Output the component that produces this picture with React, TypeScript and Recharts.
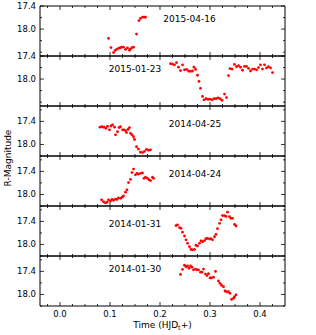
import { ScatterChart, Scatter, XAxis, YAxis, ReferenceArea, ReferenceDot } from 'recharts';

// observing nights, top panel first
const dates = ['2015-04-16', '2015-01-23', '2014-04-25', '2014-04-24', '2014-01-31', '2014-01-30'];

const time150416 = [0.097, 0.102, 0.107, 0.110, 0.113, 0.117, 0.120, 0.123, 0.127, 0.131, 0.135, 0.139, 0.141, 0.144, 0.147, 0.153, 0.158, 0.161, 0.165, 0.168, 0.171];
const mag150416 = [18.24, 18.48, 18.61, 18.56, 18.53, 18.50, 18.49, 18.47, 18.47, 18.53, 18.49, 18.55, 18.52, 18.48, 18.47, 18.13, 17.78, 17.72, 17.69, 17.69, 17.69];

const time150123 = [0.221, 0.225, 0.229, 0.233, 0.237, 0.241, 0.245, 0.249, 0.253, 0.257, 0.261, 0.265, 0.268, 0.271, 0.275, 0.278, 0.281, 0.285, 0.288, 0.292, 0.296, 0.300, 0.304, 0.308, 0.312, 0.316, 0.320, 0.324, 0.329, 0.333, 0.337, 0.340, 0.344, 0.349, 0.353, 0.357, 0.361, 0.365, 0.369, 0.373, 0.377, 0.381, 0.385, 0.389, 0.393, 0.397, 0.401, 0.405, 0.409, 0.413, 0.417, 0.421, 0.425];
const mag150123 = [17.60, 17.61, 17.63, 17.57, 17.69, 17.78, 17.63, 17.76, 17.75, 17.79, 17.80, 17.79, 17.69, 17.75, 17.90, 18.06, 18.24, 18.45, 18.54, 18.51, 18.53, 18.52, 18.54, 18.51, 18.51, 18.49, 18.51, 18.55, 18.39, 18.48, 17.91, 17.73, 17.74, 17.62, 17.68, 17.65, 17.69, 17.77, 17.67, 17.67, 17.72, 17.79, 17.74, 17.74, 17.76, 17.70, 17.63, 17.74, 17.63, 17.71, 17.68, 17.71, 17.83];

const time140425 = [0.080, 0.084, 0.088, 0.092, 0.095, 0.099, 0.102, 0.105, 0.109, 0.111, 0.115, 0.118, 0.121, 0.125, 0.128, 0.131, 0.133, 0.136, 0.139, 0.141, 0.144, 0.147, 0.149, 0.153, 0.157, 0.161, 0.165, 0.169, 0.173, 0.177, 0.181];
const mag140425 = [17.55, 17.54, 17.55, 17.58, 17.53, 17.62, 17.52, 17.49, 17.55, 17.75, 17.67, 17.56, 17.54, 17.62, 17.62, 17.64, 17.69, 17.61, 17.56, 17.71, 17.75, 17.80, 17.87, 18.06, 18.12, 18.20, 18.21, 18.18, 18.13, 18.15, 18.14];

const time140424 = [0.083, 0.087, 0.091, 0.094, 0.097, 0.101, 0.104, 0.107, 0.111, 0.114, 0.117, 0.121, 0.124, 0.127, 0.131, 0.134, 0.137, 0.141, 0.144, 0.147, 0.151, 0.154, 0.157, 0.161, 0.165, 0.168, 0.171, 0.175, 0.178, 0.181, 0.185, 0.187];
const mag140424 = [18.14, 18.19, 18.22, 18.20, 18.14, 18.17, 18.13, 18.15, 18.12, 18.13, 18.09, 18.10, 18.07, 18.04, 17.94, 17.88, 17.69, 17.61, 17.43, 17.34, 17.49, 17.45, 17.47, 17.45, 17.44, 17.58, 17.55, 17.58, 17.62, 17.64, 17.55, 17.58];

const time140131 = [0.232, 0.235, 0.239, 0.242, 0.245, 0.249, 0.252, 0.255, 0.259, 0.262, 0.265, 0.269, 0.272, 0.275, 0.279, 0.282, 0.285, 0.289, 0.292, 0.295, 0.299, 0.302, 0.305, 0.309, 0.312, 0.315, 0.319, 0.322, 0.325, 0.329, 0.332, 0.335, 0.339, 0.342, 0.345, 0.349, 0.352];
const mag140131 = [17.51, 17.49, 17.56, 17.58, 17.68, 17.78, 17.88, 17.97, 18.06, 18.13, 18.14, 18.13, 18.02, 18.04, 17.97, 17.91, 17.93, 17.90, 17.85, 17.84, 17.86, 17.85, 17.88, 17.80, 17.74, 17.59, 17.45, 17.36, 17.25, 17.25, 17.27, 17.16, 17.28, 17.32, 17.32, 17.48, 17.52];

const time140130 = [0.241, 0.245, 0.249, 0.252, 0.255, 0.258, 0.261, 0.264, 0.267, 0.271, 0.274, 0.277, 0.281, 0.284, 0.287, 0.291, 0.294, 0.297, 0.300, 0.303, 0.307, 0.311, 0.317, 0.320, 0.323, 0.327, 0.330, 0.333, 0.337, 0.340, 0.343, 0.347, 0.349, 0.352];
const mag140130 = [17.48, 17.35, 17.24, 17.28, 17.26, 17.32, 17.26, 17.29, 17.36, 17.34, 17.36, 17.36, 17.42, 17.42, 17.34, 17.47, 17.51, 17.46, 17.57, 17.57, 17.55, 17.40, 17.65, 17.71, 17.76, 17.80, 17.91, 17.93, 17.93, 17.97, 18.13, 18.10, 18.06, 18.01];

const times = [time150416, time150123, time140425, time140424, time140131, time140130];
const mags = [mag150416, mag150123, mag140425, mag140424, mag140131, mag140130];

const xTicks = [-0.025, 0, 0.025, 0.05, 0.075, 0.1, 0.125, 0.15, 0.175, 0.2, 0.225, 0.25, 0.275, 0.3, 0.325, 0.35, 0.375, 0.4, 0.425];
const xLabels = [0, 0.1, 0.2, 0.3, 0.4];
const yTicks2015 = [17.4, 17.7, 18.0, 18.3, 18.6];
const yTicks2014 = [17.1, 17.4, 17.7, 18.0, 18.3];
const yLabels = [17.4, 18.0];

// layout
const X_DOMAIN = [-0.04, 0.45];
const PLOT_W = 245;
const PLOT_H = 50;
const PAD = 10;
const FONT = 'DejaVu Sans, sans-serif';
const datePos = [
  [0.259, 17.72],
  [0.15, 17.73],
  [0.27, 17.45],
  [0.27, 17.45],
  [0.15, 17.45],
  [0.15, 17.32],
];

const isIn = (list: number[], v: number) => list.some((u) => Math.abs(u - v) < 1e-6);

function XTick(props: any) {
  const { x, y, payload, showLabel } = props;
  const major = isIn(xLabels, payload.value);
  const len = major ? 4 : 2;
  return (
    <g>
      <line x1={x} x2={x} y1={y} y2={y - len} stroke="#000" strokeWidth={0.8} />
      <line x1={x} x2={x} y1={y - PLOT_H} y2={y - PLOT_H + len} stroke="#000" strokeWidth={0.8} />
      {showLabel && major && (
        <text x={x} y={y + 11} textAnchor="middle" fontSize={8.5} fill="#000" fontFamily={FONT}>
          {payload.value.toFixed(1)}
        </text>
      )}
    </g>
  );
}

function YTick(props: any) {
  const { x, y, payload } = props;
  const major = isIn(yLabels, payload.value);
  const len = major ? 4 : 2;
  return (
    <g>
      <line x1={x} x2={x + len} y1={y} y2={y} stroke="#000" strokeWidth={0.8} />
      <line x1={x + PLOT_W} x2={x + PLOT_W - len} y1={y} y2={y} stroke="#000" strokeWidth={0.8} />
      {major && (
        <text x={x - 4} y={y} dy="0.35em" textAnchor="end" fontSize={8.5} fill="#000" fontFamily={FONT}>
          {payload.value.toFixed(1)}
        </text>
      )}
    </g>
  );
}

const RedDot = (p: any) => <circle cx={p.cx} cy={p.cy} r={1.4} fill="#ff0000" />;

function Panel({ index }: { index: number }) {
  const last = index === 5;
  const data = times[index].map((t, k) => ({ t, r: mags[index][k] }));
  const domain = index < 2 ? [17.4, 18.7] : [17.0, 18.3];
  const axisH = last ? 29 : PAD;
  return (
    <div style={{ position: 'absolute', left: 0, top: 6 + PLOT_H * index - PAD }}>
      <ScatterChart width={316} height={PAD + PLOT_H + axisH} margin={{ top: PAD, right: 31, bottom: 0, left: 0 }}>
        <XAxis
          type="number"
          dataKey="t"
          domain={X_DOMAIN}
          ticks={xTicks}
          interval={0}
          allowDataOverflow
          axisLine={false}
          tickLine={false}
          tickSize={0}
          tickMargin={0}
          height={axisH}
          tick={(p: any) => <XTick {...p} showLabel={last} />}
        />
        <YAxis
          type="number"
          dataKey="r"
          domain={domain}
          reversed
          ticks={index < 2 ? yTicks2015 : yTicks2014}
          interval={0}
          allowDataOverflow
          axisLine={false}
          tickLine={false}
          tickSize={0}
          tickMargin={0}
          width={40}
          tick={(p: any) => <YTick {...p} />}
        />
        <ReferenceArea
          x1={X_DOMAIN[0]}
          x2={X_DOMAIN[1]}
          y1={domain[0]}
          y2={domain[1]}
          fill="none"
          fillOpacity={0}
          stroke="#000"
          strokeWidth={1}
          ifOverflow="visible"
        />
        <Scatter data={data} isAnimationActive={false} shape={RedDot} />
        <ReferenceDot
          x={datePos[index][0]}
          y={datePos[index][1]}
          r={0.01}
          fill="none"
          stroke="none"
          label={{ value: dates[index], position: 'center', fontSize: 9, fill: '#000', fontFamily: FONT }}
        />
      </ScatterChart>
    </div>
  );
}

export default function App() {
  return (
    <div style={{ position: 'absolute', left: 0, top: 0, width: 316, height: 335, background: '#fff', fontFamily: FONT }}>
      {dates.map((d, i) => (
        <Panel key={d} index={i} />
      ))}
      <svg width={316} height={335} style={{ position: 'absolute', left: 0, top: 0, pointerEvents: 'none' }}>
        <text transform="translate(8,158) rotate(-90)" textAnchor="middle" dy="0.35em" fontSize={9} fill="#000" fontFamily={FONT}>
          R-Magnitude
        </text>
        <text x={162.5} y={328} textAnchor="middle" fontSize={9} fill="#000" fontFamily={FONT}>
          Time (HJD<tspan fontSize={6.5} dy={2}>t</tspan>
          <tspan dy={-2}>+)</tspan>
        </text>
      </svg>
    </div>
  );
}
